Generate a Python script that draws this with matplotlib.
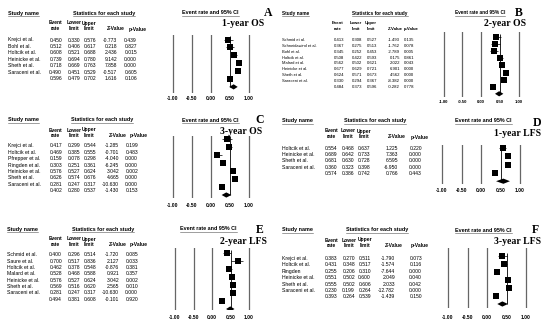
import matplotlib
matplotlib.use("Agg")
import matplotlib.pyplot as plt

# ---- data ----
a_studies = ["Krejci et al.", "Bohl et al.", "Holtcik et al.", "Heinicke et al.", "Sheth et al.", "Saraceni et al."]
a_rate = [0.450, 0.512, 0.608, 0.739, 0.718, 0.490]
a_lower = [0.330, 0.406, 0.521, 0.694, 0.669, 0.451]
a_upper = [0.576, 0.617, 0.688, 0.780, 0.763, 0.529]
a_z = [-0.773, 0.218, 2.436, 9.142, 7.858, -0.517]
a_p = [0.439, 0.827, 0.015, 0.000, 0.000, 0.605]
a_summary = [0.596, 0.479, 0.702, 1.616, 0.106]

b_studies = ["Schmid et al.", "Schneidawind et al.", "Bohl et al.", "Holtcik et al.", "Malard et al.",
             "Heinicke et al.", "Sheth et al.", "Saraceni et al."]
b_rate = [0.413, 0.367, 0.345, 0.508, 0.562, 0.677, 0.624, 0.330]
b_lower = [0.308, 0.275, 0.252, 0.422, 0.502, 0.629, 0.571, 0.294]
b_upper = [0.527, 0.513, 0.453, 0.593, 0.621, 0.721, 0.673, 0.367]
b_z = [-1.493, -1.762, -2.789, 0.175, 2.022, 6.901, 4.562, -8.382]
b_p = [0.135, 0.078, 0.005, 0.861, 0.043, 0.000, 0.000, 0.000]
b_summary = [0.484, 0.373, 0.596, -0.282, 0.778]

c_studies = ["Krejci et al.", "Holtcik et al.", "Pfrepper et al.", "Ringden et al.", "Heinicke et al.",
             "Sheth et al.", "Saraceni et al."]
c_rate = [0.417, 0.469, 0.159, 0.303, 0.576, 0.626, 0.281]
c_lower = [0.299, 0.385, 0.078, 0.251, 0.527, 0.574, 0.247]
c_upper = [0.544, 0.555, 0.298, 0.361, 0.624, 0.676, 0.317]
c_z = [-1.285, -0.701, -4.040, -6.245, 3.042, 4.665, -10.630]
c_p = [0.199, 0.483, 0.000, 0.000, 0.002, 0.000, 0.000]
c_summary = [0.402, 0.280, 0.537, -1.430, 0.153]

d_studies = ["Holtcik et al.", "Heinicke et al.", "Sheth et al.", "Saraceni et al."]
d_rate = [0.554, 0.689, 0.681, 0.360]
d_lower = [0.468, 0.642, 0.630, 0.323]
d_upper = [0.637, 0.733, 0.728, 0.398]
d_z = [1.225, 7.363, 6.595, -6.950]
d_p = [0.220, 0.000, 0.000, 0.000]
d_summary = [0.574, 0.386, 0.742, 0.766, 0.443]

e_studies = ["Schmid et al.", "Saure et al.", "Holtcik et al.", "Malard et al.", "Heinicke et al.",
             "Sheth et al.", "Saraceni et al."]
e_rate = [0.400, 0.700, 0.462, 0.528, 0.576, 0.569, 0.281]
e_lower = [0.296, 0.517, 0.378, 0.468, 0.527, 0.516, 0.247]
e_upper = [0.514, 0.836, 0.548, 0.588, 0.624, 0.620, 0.317]
e_z = [-1.720, 2.127, -0.876, 0.921, 3.042, 2.565, -10.630]
e_p = [0.085, 0.033, 0.381, 0.357, 0.002, 0.010, 0.000]
e_summary = [0.494, 0.381, 0.608, -0.101, 0.920]

f_studies = ["Krejci et al.", "Holtcik et al.", "Ringden", "Heinicke et al.", "Sheth et al.", "Saraceni et al."]
f_rate = [0.383, 0.431, 0.255, 0.551, 0.555, 0.230]
f_lower = [0.270, 0.348, 0.206, 0.502, 0.502, 0.199]
f_upper = [0.511, 0.517, 0.310, 0.600, 0.606, 0.264]
f_z = [-1.790, -1.574, -7.644, 2.049, 2.033, -12.782]
f_p = [0.073, 0.116, 0.000, 0.040, 0.042, 0.000]
f_summary = [0.393, 0.264, 0.539, -1.439, 0.150]

letters = ["A", "B", "C", "D", "E", "F"]
titles = ["1-year OS", "2-year OS", "3-year OS", "1-year LFS", "2-year LFS", "3-year LFS"]
tick_vals = [-1.0, -0.5, 0.0, 0.5, 1.0]
tick_labels = ["-1.00", "-0.50", "0.00", "0.50", "1.00"]

panels = [
    (a_studies, a_rate, a_lower, a_upper, a_z, a_p, a_summary),
    (b_studies, b_rate, b_lower, b_upper, b_z, b_p, b_summary),
    (c_studies, c_rate, c_lower, c_upper, c_z, c_p, c_summary),
    (d_studies, d_rate, d_lower, d_upper, d_z, d_p, d_summary),
    (e_studies, e_rate, e_lower, e_upper, e_z, e_p, e_summary),
    (f_studies, f_rate, f_lower, f_upper, f_z, f_p, f_summary),
]

# ---- layout in pixels (550 x 325 canvas) ----
layout = [
    dict(name_x=8, head_y=13, ev_y=(23, 29), row_y0=40, row_dy=6.45, cols=[62, 80, 96, 117, 137], stats_x=104,
         zero_x=211, k=38, top=35, bot=93, sq_y0=39.5, sq_dy=7.9, tick_y=98, er_x=182,
         letter=(268, 13), title=(243, 24), sq=5.5, fs=3.6, fsh=3.9, fsn=3.7, hoff=[-7, -6, -7, -1, 1]),
    dict(name_x=282, head_y=13, ev_y=(23, 29), row_y0=40, row_dy=5.85, cols=[344, 362, 377, 400, 414], stats_x=380,
         zero_x=481, k=37.5, top=32, bot=97, sq_y0=37, sq_dy=7.1, tick_y=102, er_x=455,
         letter=(519, 13), title=(505, 24), sq=5.2, fs=3.1, fsh=3.4, fsn=2.9, hoff=[-6, -6, -6, -5, -3]),
    dict(name_x=8, head_y=120, ev_y=(130, 135.5), row_y0=145.7, row_dy=6.45, cols=[62, 80, 96, 119, 138], stats_x=102,
         zero_x=211, k=38, top=136, bot=198, sq_y0=139, sq_dy=8.0, tick_y=205, er_x=182,
         letter=(260, 120), title=(241, 131), sq=5.5, fs=3.6, fsh=3.9, fsn=3.7, hoff=[-7, -6, -7, -1, 1]),
    dict(name_x=282, head_y=121, ev_y=(131, 137), row_y0=148.3, row_dy=6.25, cols=[337, 354, 370, 398, 422], stats_x=375,
         zero_x=481, k=39, top=145, bot=184, sq_y0=148, sq_dy=8.3, tick_y=190, er_x=455,
         letter=(537, 123), title=(517, 133), sq=6.0, fs=3.6, fsh=3.9, fsn=3.7, hoff=[-6, -6, -6, -1, -2]),
    dict(name_x=7, head_y=229, ev_y=(239, 244.5), row_y0=255, row_dy=6.33, cols=[62, 80, 96, 119, 138], stats_x=103,
         zero_x=212, k=37, top=248, bot=310, sq_y0=253, sq_dy=8.0, tick_y=317, er_x=180,
         letter=(260, 230), title=(243, 241), sq=5.5, fs=3.6, fsh=3.9, fsn=3.7, hoff=[-7, -6, -7, -1, 1]),
    dict(name_x=282, head_y=230, ev_y=(240, 245.5), row_y0=258.3, row_dy=6.45, cols=[337, 355, 371, 395, 422], stats_x=377,
         zero_x=487, k=39, top=248, bot=308, sq_y0=256, sq_dy=8.0, tick_y=317, er_x=455,
         letter=(535, 230), title=(518, 241), sq=5.5, fs=3.6, fsh=3.9, fsn=3.7, hoff=[-6, -6, -6, -1, -2]),
]

W, H = 550, 325
TXT = "black"
col_top = ["Event", "Lower", "Upper", "", ""]
col_bot = ["rate", "limit", "limit", "Z-Value", "p-Value"]

plt.rcParams["font.family"] = ["Liberation Sans", "DejaVu Sans"]

fig = plt.figure(figsize=(W / 100, H / 100), dpi=100)
renderer = fig.canvas.get_renderer()


def fx(x):
    return x / W


def fy(y):
    return 1 - y / H


def underline(t):
    bb = t.get_window_extent(renderer=renderer)
    y = (bb.y0 - 0.6) / H
    fig.add_artist(plt.Line2D([bb.x0 / W, bb.x1 / W], [y, y], lw=0.4, color="#555555"))


for (studies, rate, lower, upper, z, p, summary), lay, letter, title in zip(panels, layout, letters, titles):
    n = len(studies)
    fs, fsh = lay["fs"], lay["fsh"]

    # headers
    t = fig.text(fx(lay["name_x"]), fy(lay["head_y"]), "Study name", fontsize=fsh, fontweight="bold",
                 ha="left", va="center", color=TXT)
    underline(t)
    t = fig.text(fx(lay["stats_x"]), fy(lay["head_y"]), "Statistics for each study", fontsize=fsh,
                 fontweight="bold", ha="center", va="center", color=TXT)
    underline(t)
    t = fig.text(fx(lay["er_x"]), fy(lay["head_y"]), "Event rate and 95% CI", fontsize=fsh,
                 fontweight="bold", ha="left", va="center", color=TXT)
    underline(t)
    for j in range(5):
        cx = lay["cols"][j] + lay["hoff"][j]
        if col_top[j]:
            fig.text(fx(cx), fy(lay["ev_y"][0]), col_top[j], fontsize=fs, fontweight="bold",
                     ha="center", va="center", color=TXT)
        fig.text(fx(cx), fy(lay["ev_y"][1]), col_bot[j], fontsize=fs, fontweight="bold",
                 ha="center", va="center", color=TXT)

    # table rows
    for i in range(n + 1):
        y = fy(lay["row_y0"] + i * lay["row_dy"])
        if i < n:
            fig.text(fx(lay["name_x"]), y, studies[i], fontsize=lay["fsn"], ha="left", va="center", color=TXT)
            vals = [rate[i], lower[i], upper[i], z[i], p[i]]
        else:
            vals = summary
        for j, v in enumerate(vals):
            fig.text(fx(lay["cols"][j]), y, "%.3f" % v, fontsize=fs, ha="right", va="center", color=TXT)

    # letter + title
    fig.text(fx(lay["letter"][0]), fy(lay["letter"][1]), letter, fontsize=8.5, fontweight="bold",
             family="Liberation Serif", ha="center", va="center", color="black")
    fig.text(fx(lay["title"][0]), fy(lay["title"][1]), title, fontsize=7, fontweight="bold",
             family="Liberation Serif", ha="center", va="center", color="black")

    # forest plot axes
    k = lay["k"]
    left = lay["zero_x"] - 1.12 * k
    ax = fig.add_axes([fx(left), fy(lay["bot"]), 2.24 * k / W, (lay["bot"] - lay["top"]) / H])
    ax.set_xlim(-1.12, 1.12)
    ax.set_ylim((lay["bot"] - lay["sq_y0"]) / lay["sq_dy"], (lay["top"] - lay["sq_y0"]) / lay["sq_dy"])
    for s in ax.spines.values():
        s.set_visible(False)
    ax.patch.set_visible(False)
    ax.set_yticks([])

    for v in [-1.0, -0.5, 0.0, 1.0]:
        ax.axvline(v, color="#666666", lw=0.9)
    ax.vlines(0.5, -0.4, n, color="black", lw=0.6)

    rows = list(range(n))
    ax.hlines(rows, lower, upper, color="black", lw=0.5)
    side_pt = lay["sq"] * 0.72
    ax.scatter(rate, rows, marker="s", s=side_pt ** 2, color="black", linewidths=0, zorder=3)

    hh = 2.6 / lay["sq_dy"]
    est, lo, up = summary[0], summary[1], summary[2]
    ax.fill([lo, est, up, est], [n, n - hh, n, n + hh], color="black", lw=0, zorder=3)

    ax.set_xticks(tick_vals)
    ax.set_xticklabels(tick_labels, fontsize=lay["fs"], fontweight="bold", color=TXT)
    pad_px = lay["tick_y"] - 2.4 - lay["bot"]
    ax.tick_params(axis="x", length=0, pad=pad_px * 0.72)

fig.savefig("out.png", dpi=100)
